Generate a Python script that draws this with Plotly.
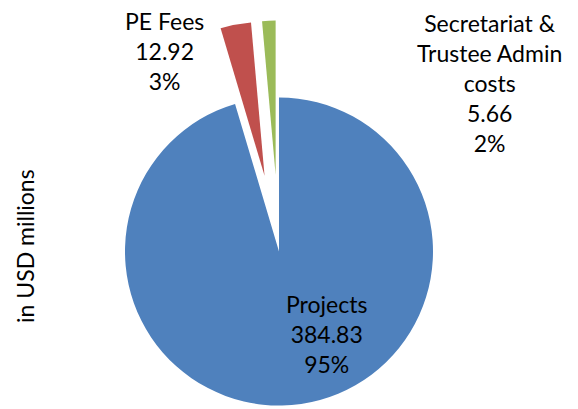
import math
import plotly.graph_objects as go

# ---- data ----
labels = ["Projects", "PE Fees", "Secretariat & Trustee Admin costs"]
label_lines = ["Projects", "PE Fees", "Secretariat &<br>Trustee Admin<br>costs"]
values = [384.83, 12.92, 5.66]
percent_labels = ["95%", "3%", "2%"]
pulls = [0.0, 0.5, 0.5]
colors = ["#4F81BD", "#C0504D", "#9BBB59"]
axis_title = "in USD millions"

# ---- layout constants (px inside the figure; page body adds an 8px offset) ----
W, H = 570, 401
CX, CY, R = 271, 243.5, 154        # pie centre / radius in px
FONT = "Lato, Carlito, Calibri, sans-serif"
FS = 23

total = sum(values)
fig = go.Figure()

cum = 0.0
for i, v in enumerate(values):
    frac = v / total
    mid = (cum + frac / 2) * 2 * math.pi   # clockwise from 12 o'clock
    cum += frac
    off = pulls[i] * R
    cx = CX + off * math.sin(mid)
    cy = CY - off * math.cos(mid)
    cols = ["rgba(0,0,0,0)"] * len(values)
    cols[i] = colors[i]
    fig.add_trace(go.Pie(
        labels=labels, values=values, sort=False, direction="clockwise",
        rotation=0, textinfo="none", hoverinfo="label+value+percent",
        marker=dict(colors=cols, line=dict(width=0)),
        showlegend=False,
        domain=dict(x=[(cx - R) / W, (cx + R) / W],
                    y=[1 - (cy + R) / H, 1 - (cy - R) / H]),
    ))

# data label positions (px, centre of text block)
label_pos = [(318, 325.5), (156.5, 42.5), (481.5, 75)]
for i, (px, py) in enumerate(label_pos):
    txt = f"{label_lines[i]}<br>{values[i]:.2f}<br>{percent_labels[i]}"
    fig.add_annotation(text=txt, x=px / W, y=1 - py / H, xref="paper", yref="paper",
                       showarrow=False, xanchor="center", yanchor="middle",
                       font=dict(family=FONT, size=FS, color="#000000"))

fig.add_annotation(text=axis_title, x=17 / W, y=1 - 238 / H, xref="paper", yref="paper",
                   showarrow=False, textangle=-90, xanchor="center", yanchor="middle",
                   font=dict(family=FONT, size=FS, color="#000000"))

fig.update_layout(width=W, height=H, margin=dict(l=0, r=0, t=0, b=0),
                  paper_bgcolor="white", plot_bgcolor="white")
fig.write_html("out.html")
